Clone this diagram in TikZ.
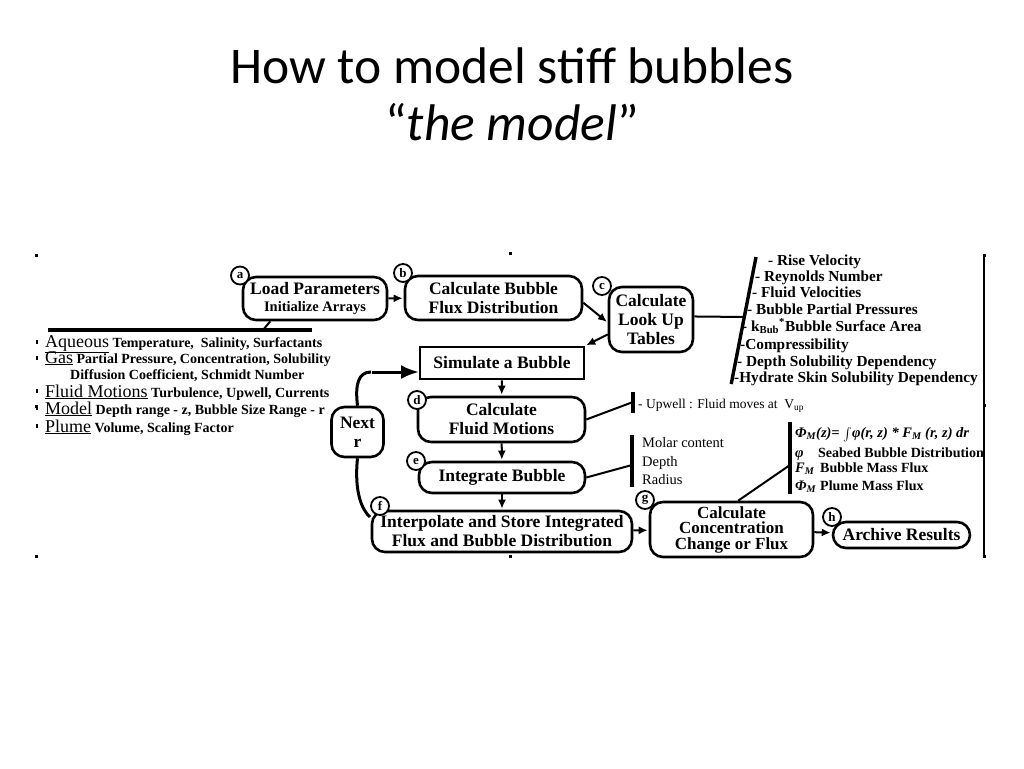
\documentclass[tikz,border=0pt]{standalone}
\usepackage{fontspec}
\setmainfont{Liberation Serif}
\newfontfamily\titlefont{Carlito}
\newcommand\headfont{\fontsize{18}{18}\selectfont\mdseries}
\usetikzlibrary{arrows.meta}

\begin{document}
\begin{tikzpicture}[x=1pt,y=-1pt,->,>={Latex[length=9pt,width=8pt]},shorten >=1pt,
		step node/.style={draw,line width=2.6pt,rounded corners=13pt,align=center,
			inner sep=1pt,font=\fontsize{17.5}{19}\selectfont\bfseries},
		box node/.style={draw,line width=2.6pt,align=center,inner sep=1pt,
			font=\fontsize{17.5}{19}\selectfont\bfseries},
		tag node/.style={circle,draw,line width=1.8pt,fill=white,inner sep=0pt,
			minimum size=18pt,font=\fontsize{13}{13}\selectfont\bfseries},
		title node/.style={anchor=base,inner sep=0pt,font=\titlefont\fontsize{51.5}{52}\selectfont},
		item text/.style={anchor=base west,inner sep=0pt,font=\fontsize{14}{15}\selectfont\bfseries},
		table text/.style={anchor=base west,inner sep=0pt,font=\fontsize{15.3}{16}\selectfont\bfseries},
		note text/.style={anchor=base west,inner sep=0pt,font=\fontsize{14.5}{15}\selectfont},
		form text/.style={anchor=base west,inner sep=0pt,font=\fontsize{14.5}{15}\selectfont\bfseries\itshape},
		link/.style={-,line width=2pt},
		bar/.style={-,line width=3.4pt},
		loop line/.style={-,line width=3pt}]
	\useasboundingbox (0,0) rectangle (1024,768);
	\fill[-,white] (0,0) rectangle (1024,768);
	%
	% Title of the slide.
	\node[title node] (title) at (512,83) {How to model stiff bubbles};
	\node[title node] (subtitle) at (512,140) {“\textit{the model}”};
	%
	% Frame of the picture with its handles.
	\draw[-,line width=1.5pt] (984,255) -- (984,556);
	\foreach \x/\y in {36/255,510/253,984/255,36/406,984/405,36/556,510/556,984/556}
		\fill[-] (\x-1.5,\y-1.5) rectangle ++(3,3);
	%
	% Steps of the model.
	\node[step node,minimum width=144pt,minimum height=43pt] (load) at (315,298.5)
		{Load Parameters\\[-2pt]{\fontsize{14.5}{15}\selectfont Initialize Arrays}};
	\node[step node,minimum width=177pt,minimum height=44pt] (flux) at (493.5,298) {Calculate Bubble\\Flux Distribution};
	\node[step node,minimum width=84pt,minimum height=65pt] (look) at (651,319.5) {Calculate\\Look Up\\Tables};
	\node[box node,minimum width=164pt,minimum height=32pt] (sim) at (502,363) {Simulate a Bubble};
	\node[step node,minimum width=167pt,minimum height=45pt] (fluid) at (501.5,419.5) {Calculate\\Fluid Motions};
	\node[step node,minimum width=166pt,minimum height=31pt] (integ) at (502,477.5) {Integrate Bubble};
	\node[step node,minimum width=260pt,minimum height=41pt] (interp) at (502,531.5)
		{Interpolate and Store Integrated\\Flux and Bubble Distribution};
	\node[step node,minimum width=163pt,minimum height=55pt,font=\fontsize{17}{15.5}\selectfont\bfseries] (conc) at (731.5,529.5)
		{Calculate\\Concentration\\Change or Flux};
	\node[step node,minimum width=137pt,minimum height=26pt] (arch) at (901.5,535) {Archive Results};
	\node[step node,minimum width=52pt,minimum height=50pt] (next) at (357.5,432) {Next\\r};
	%
	% Letters of the steps.
	\node[tag node] (ta) at (240,275.5) {a};
	\node[tag node] (tb) at (403,273) {b};
	\node[tag node] (tc) at (602,286) {c};
	\node[tag node] (td) at (417,400) {d};
	\node[tag node] (te) at (416,461) {e};
	\node[tag node] (tf) at (380,506) {f};
	\node[tag node] (tg) at (645,500) {g};
	\node[tag node] (th) at (832,517) {h};
	%
	% Arrows between the steps.
	\path[link,->]
		(load) edge (flux)
		(flux.-3) edge (look.184)
		(look.199) edge (sim.north east)
		(sim) edge (fluid)
		(fluid) edge (integ)
		(integ) edge (interp)
		(interp) edge (conc)
		(conc) edge (arch);
	%
	% Loop over the bubble sizes.
	\coordinate (bend) at (372,372);
	\coordinate (simarrow) at (419,372);
	\draw[loop line] (next.north) .. controls (355,385) and (358,372) .. (bend);
	\draw[loop line,-{Latex[length=18pt,width=14pt]},shorten >=0pt] (bend) -- (simarrow);
	\draw[loop line] (next.south) .. controls (354,492) and (362,510) .. (interp.174);
	%
	% Input parameters.
	\coordinate (parl) at (48,330);
	\coordinate (parr) at (313,330);
	\coordinate (parj) at (263,330);
	\draw[bar] (parl) -- (parr);
	\draw[link] (load.207) -- (parj);
	\foreach \y in {342,358,391,408,426}
		\fill[-] (35.5,\y-2) rectangle ++(2.5,4);
	\node[item text] (aqueous) at (45,347) {{\headfont\underline{Aqueous}} Temperature,\ \ Salinity, Surfactants};
	\node[item text] (gas) at (45,363) {{\headfont\underline{Gas}} Partial Pressure, Concentration, Solubility};
	\node[item text] (diff) at (70,379) {Diffusion Coefficient, Schmidt Number};
	\node[item text] (motion) at (45,397) {{\headfont\underline{Fluid Motions}} Turbulence, Upwell, Currents};
	\node[item text] (model) at (45,414) {{\headfont\underline{Model}} Depth range - z, Bubble Size Range - r};
	\node[item text] (plume) at (45,432) {{\headfont\underline{Plume}} Volume, Scaling Factor};
	%
	% Look up tables.
	\coordinate (slt) at (756,257);
	\coordinate (slb) at (731,385);
	\coordinate (slj) at (744.5,317);
	\draw[bar] (slt) -- (slb);
	\draw[link] (look.4) -- (slj);
	\foreach \x/\y/\txt in {768/265/{- Rise Velocity},755/281/{- Reynolds Number},752/297/{- Fluid Velocities},
			747/314/{- Bubble Partial Pressures},742/331/{- k\textsubscript{Bub}\textsuperscript{*}Bubble Surface Area},
			740/349/{-Compressibility},737/366/{- Depth Solubility Dependency},734/382/{-Hydrate Skin Solubility Dependency}}
		\node[table text] (tab\y) at (\x,\y) {\txt};
	%
	% Fluid motions.
	\coordinate (upt) at (633,392);
	\coordinate (upb) at (633,414);
	\coordinate (upj) at (633,402);
	\draw[bar] (upt) -- (upb);
	\draw[link] (fluid.east) -- (upj);
	\node[note text,font=\fontsize{13.5}{14}\selectfont] (upwell) at (638,408) {- Upwell : Fluid moves at\ \ V\textsubscript{up}};
	%
	% State of the bubble.
	\coordinate (ebt) at (632,435);
	\coordinate (ebb) at (632,488);
	\coordinate (ebj) at (632,465);
	\draw[bar] (ebt) -- (ebb);
	\draw[link] (integ.east) -- (ebj);
	\node[note text] (molar) at (642,447) {Molar content};
	\node[note text] (depth) at (642,466) {Depth};
	\node[note text] (radius) at (642,484) {Radius};
	%
	% Mass flux of the plume.
	\coordinate (fbt) at (790,422);
	\coordinate (fbb) at (790,495);
	\coordinate (fbj) at (790,465);
	\draw[bar] (fbt) -- (fbb);
	\draw[link] (conc.77) -- (fbj);
	\node[form text] (phiz) at (795,437) {Φ\textsubscript{M}(z)= \raisebox{-2pt}{\scalebox{1.3}{$\int$}}φ(r, z) * F\textsubscript{M} (r, z) dr};
	\node[form text] (phis) at (795,457) {φ};
	\node[item text] (phisl) at (818,457) {Seabed Bubble Distribution};
	\node[form text] (fm) at (795,472) {F\textsubscript{M}};
	\node[item text] (fml) at (820,472) {Bubble Mass Flux};
	\node[form text] (phim) at (795,490) {Φ\textsubscript{M}};
	\node[item text] (phiml) at (820,490) {Plume Mass Flux};
\end{tikzpicture}
\end{document}
